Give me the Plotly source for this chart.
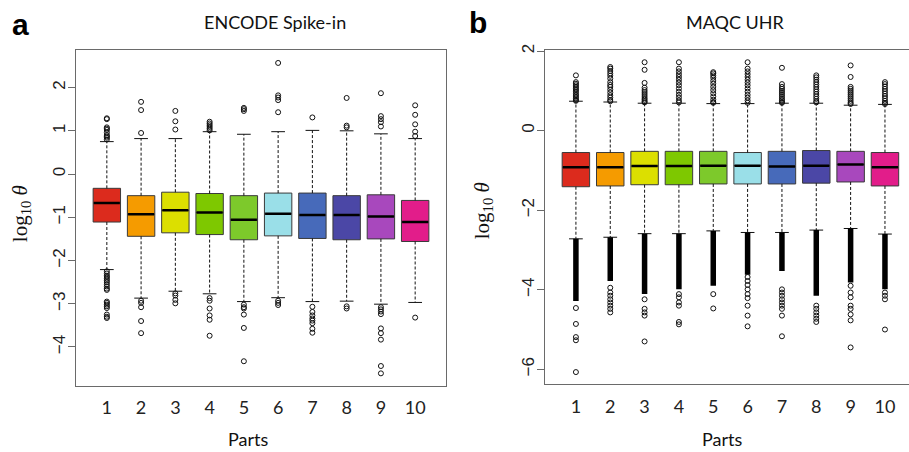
import plotly.graph_objects as go

W, H = 909, 452

parts = [1, 2, 3, 4, 5, 6, 7, 8, 9, 10]
part_labels = ["1", "2", "3", "4", "5", "6", "7", "8", "9", "10"]
colors = ["#DC2B1D", "#F59B00", "#DCDF00", "#7EC800", "#7DC92B",
          "#9ADFE8", "#476ABA", "#4B47A6", "#A848BD", "#E21D8A"]

# ---------------- Panel a: ENCODE Spike-in ----------------
a_q1 = [-1.11, -1.44, -1.36, -1.40, -1.52, -1.43, -1.49, -1.52, -1.50, -1.56]
a_median = [-0.67, -0.93, -0.84, -0.89, -1.06, -0.92, -0.95, -0.95, -0.98, -1.11]
a_q3 = [-0.33, -0.50, -0.42, -0.45, -0.50, -0.44, -0.44, -0.50, -0.48, -0.61]
a_lower = [-2.21, -2.87, -2.71, -2.77, -2.95, -2.86, -2.95, -2.94, -3.01, -2.97]
a_upper = [0.75, 0.82, 0.82, 0.98, 0.92, 0.98, 1.01, 1.00, 0.93, 0.82]
a_out_hi = [
    [1.29, 1.27, 1.08, 1.05, 1.02, 0.96, 0.90, 0.87, 0.84, 0.80],
    [1.67, 1.48, 0.95],
    [1.46, 1.22, 1.03],
    [1.21, 1.17, 1.13, 1.09, 1.05, 1.01],
    [1.53, 1.50, 1.46],
    [2.57, 1.82, 1.77, 1.71, 1.43],
    [1.31],
    [1.76, 1.12, 1.08],
    [1.87, 1.34, 1.27, 1.20, 1.10],
    [1.59, 1.37, 1.15, 0.98, 0.88],
]
a_out_lo = [
    [-2.25, -2.30, -2.35, -2.38, -2.42, -2.46, -2.50, -2.55, -2.60, -2.65, -2.68,
     -2.95, -2.98, -3.02, -3.06, -3.10, -3.25, -3.30, -3.33],
    [-2.93, -2.98, -3.08, -3.40, -3.68],
    [-2.76, -2.81, -2.91, -2.99],
    [-2.87, -2.93, -3.11, -3.27, -3.37, -3.74],
    [-3.02, -3.08, -3.11, -3.25, -3.56, -4.33],
    [-2.93, -2.98, -3.03],
    [-3.07, -3.19, -3.27, -3.34, -3.39, -3.45, -3.58, -3.67],
    [-3.06, -3.11],
    [-3.08, -3.13, -3.18, -3.24, -3.57, -3.68, -3.83, -4.44, -4.61],
    [-3.32],
]

# ---------------- Panel b: MAQC UHR ----------------
b_q1 = [-1.41, -1.39, -1.36, -1.36, -1.34, -1.34, -1.34, -1.32, -1.29, -1.39]
b_median = [-0.92, -0.92, -0.89, -0.89, -0.88, -0.88, -0.90, -0.88, -0.85, -0.92]
b_q3 = [-0.55, -0.55, -0.52, -0.52, -0.52, -0.55, -0.52, -0.50, -0.52, -0.55]
b_lower = [-2.72, -2.68, -2.59, -2.59, -2.52, -2.56, -2.56, -2.50, -2.46, -2.60]
b_upper = [0.74, 0.72, 0.69, 0.69, 0.68, 0.68, 0.69, 0.69, 0.64, 0.66]
# lower end of the solid run of overlapping outliers below each lower whisker
b_dense_lo_end = [-4.28, -3.78, -4.11, -3.99, -3.90, -3.62, -3.53, -4.15, -3.82, -3.99]
b_out_hi = [
    [1.39, 1.22, 1.18, 1.14, 1.10, 1.06, 1.02, 0.98, 0.93, 0.89, 0.85, 0.81, 0.77, 0.75],
    [1.60, 1.56, 1.50, 1.44, 1.38, 1.31, 1.22, 1.15, 1.10, 1.03, 0.96, 0.89, 0.83, 0.77, 0.74],
    [1.72, 1.53, 1.20, 1.08, 1.02, 0.97, 0.92, 0.87, 0.82, 0.78, 0.74, 0.71],
    [1.72, 1.56, 1.49, 1.42, 1.35, 1.28, 1.21, 1.14, 1.06, 0.98, 0.90, 0.83, 0.76, 0.71],
    [1.47, 1.44, 1.39, 1.33, 1.25, 1.18, 1.10, 1.02, 0.94, 0.86, 0.78, 0.72, 0.70],
    [1.72, 1.56, 1.49, 1.42, 1.35, 1.28, 1.21, 1.14, 1.06, 0.98, 0.90, 0.83, 0.76, 0.70],
    [1.58, 1.17, 1.10, 1.05, 1.00, 0.95, 0.90, 0.85, 0.80, 0.76, 0.72, 0.70],
    [1.39, 1.34, 1.28, 1.22, 1.16, 1.10, 1.04, 0.98, 0.92, 0.86, 0.80, 0.74, 0.71],
    [1.64, 1.35, 1.10, 1.05, 1.00, 0.95, 0.90, 0.85, 0.80, 0.75, 0.70, 0.67],
    [1.22, 1.17, 1.11, 1.05, 0.99, 0.93, 0.87, 0.81, 0.75, 0.70, 0.67],
]
b_out_lo = [
    [-4.46, -4.86, -5.19, -5.27, -6.07],
    [-3.95, -4.07, -4.15, -4.24, -4.32, -4.40, -4.48, -4.57],
    [-4.24, -4.48, -4.57, -4.65, -5.30],
    [-4.11, -4.19, -4.32, -4.40, -4.81, -4.87],
    [-4.11, -4.47],
    [-3.68, -3.78, -3.88, -3.99, -4.11, -4.21, -4.40, -4.65, -4.92],
    [-3.99, -4.07, -4.15, -4.24, -4.32, -4.40, -4.48, -4.65, -5.17],
    [-4.40, -4.48, -4.57, -4.65, -4.73, -4.81],
    [-3.90, -4.07, -4.19, -4.40, -4.48, -4.62, -4.77, -5.45],
    [-4.07, -4.15, -4.24, -5.00],
]

titles = ["ENCODE Spike-in", "MAQC UHR"]
panel_letters = ["a", "b"]
x_title = "Parts"
y_title = "log<sub>10</sub> <i>θ</i>"

BOX_W = 0.8
CAP_HALF = 0.2
EDGE = "#3a3a3a"
AXIS = "#6a6a6a"

fig = go.Figure()


def add_panel(xa, ya, q1, med, q3, lo, hi, out_hi, out_lo, dense_end=None):
    for i, p in enumerate(parts):
        fig.add_trace(go.Box(
            x=[p], q1=[q1[i]], median=[med[i]], q3=[q3[i]],
            lowerfence=[q1[i]], upperfence=[q3[i]],
            width=BOX_W, whiskerwidth=0, fillcolor=colors[i],
            line=dict(color=EDGE, width=1), boxpoints=False,
            xaxis=xa, yaxis=ya, showlegend=False, hoverinfo="skip"))
    # dashed whiskers
    wx, wy = [], []
    for i, p in enumerate(parts):
        wx += [p, p, None, p, p, None]
        wy += [q3[i], hi[i], None, q1[i], lo[i], None]
    fig.add_trace(go.Scatter(x=wx, y=wy, mode="lines", xaxis=xa, yaxis=ya,
                             line=dict(color="#111", width=1, dash="3px,2px"),
                             showlegend=False, hoverinfo="skip"))
    # staples
    cx, cy = [], []
    for i, p in enumerate(parts):
        cx += [p - CAP_HALF, p + CAP_HALF, None, p - CAP_HALF, p + CAP_HALF, None]
        cy += [hi[i], hi[i], None, lo[i], lo[i], None]
    fig.add_trace(go.Scatter(x=cx, y=cy, mode="lines", xaxis=xa, yaxis=ya,
                             line=dict(color="#111", width=1),
                             showlegend=False, hoverinfo="skip"))
    # dense outlier runs
    if dense_end is not None:
        dx, dy = [], []
        for i, p in enumerate(parts):
            dx += [p, p, None]
            dy += [lo[i], dense_end[i], None]
        fig.add_trace(go.Scatter(x=dx, y=dy, mode="lines", xaxis=xa, yaxis=ya,
                                 line=dict(color="#000", width=5.5),
                                 showlegend=False, hoverinfo="skip"))
    # outliers
    ox, oy = [], []
    for i, p in enumerate(parts):
        for v in out_hi[i] + out_lo[i]:
            ox.append(p)
            oy.append(v)
    fig.add_trace(go.Scatter(x=ox, y=oy, mode="markers", xaxis=xa, yaxis=ya,
                             marker=dict(symbol="circle-open", size=5,
                                         color="#111", line=dict(width=1)),
                             showlegend=False, hoverinfo="skip"))
    # medians
    mx, my = [], []
    for i, p in enumerate(parts):
        mx += [p - BOX_W / 2 + 0.02, p + BOX_W / 2 - 0.02, None]
        my += [med[i], med[i], None]
    fig.add_trace(go.Scatter(x=mx, y=my, mode="lines", xaxis=xa, yaxis=ya,
                             line=dict(color="#000", width=2.5),
                             showlegend=False, hoverinfo="skip"))


add_panel("x", "y", a_q1, a_median, a_q3, a_lower, a_upper, a_out_hi, a_out_lo)
add_panel("x2", "y2", b_q1, b_median, b_q3, b_lower, b_upper, b_out_hi, b_out_lo,
          b_dense_lo_end)


def px_x(v):
    return v / W


def px_y(v):
    return 1 - v / H


xtick_font = dict(family="Lato, Open Sans, sans-serif", size=18, color="#222")
ytick_font = dict(family="Liberation Sans, Arial, sans-serif", size=17, color="#222")

common_x = dict(tickmode="array", tickvals=parts, ticktext=part_labels,
                ticks="", showgrid=False, zeroline=False, showline=True,
                linecolor=AXIS, linewidth=1, tickfont=xtick_font,
                ticklabelstandoff=6)
common_y = dict(ticks="outside", ticklen=7, tickcolor=AXIS, tickwidth=1,
                showgrid=False, zeroline=False, showline=True, linecolor=AXIS,
                linewidth=1, tickfont=ytick_font, tickangle=-90,
                ticklabelstandoff=-4)

fig.update_layout(
    width=W, height=H,
    margin=dict(l=0, r=0, t=0, b=0),
    paper_bgcolor="white", plot_bgcolor="white",
    boxmode="overlay",
    xaxis=dict(domain=[px_x(76), px_x(446)], range=[0.1, 10.9], mirror=True,
               anchor="y", **common_x),
    yaxis=dict(domain=[px_y(385), px_y(45)], range=[-4.90, 2.86], mirror=True,
               anchor="x", tickvals=[-4, -3, -2, -1, 0, 1, 2], **common_y),
    xaxis2=dict(domain=[px_x(545), 1.0], range=[0.1, 10.7], mirror=True,
                anchor="y2", **common_x),
    yaxis2=dict(domain=[px_y(383.5), px_y(44.5)], range=[-6.38, 2.03], mirror=False,
                anchor="x2", tickvals=[-6, -4, -2, 0, 2], **common_y),
)

ann = []
title_font = dict(family="Lato, Open Sans, sans-serif", size=18, color="#111")
for t, cx in zip(titles, [275, 735]):
    ann.append(dict(text=t, x=px_x(cx), y=px_y(16), xref="paper", yref="paper",
                    showarrow=False, font=title_font, xanchor="center", yanchor="middle"))
for t, cx, cy in zip(panel_letters, [20, 478], [19, 17]):
    ann.append(dict(text="<b>" + t + "</b>", x=px_x(cx), y=px_y(cy), xref="paper",
                    yref="paper", showarrow=False,
                    font=dict(family="Liberation Sans, Arial, sans-serif", size=30,
                              color="#000"),
                    xanchor="center", yanchor="middle"))
for cx in [248, 722]:
    ann.append(dict(text=x_title, x=px_x(cx), y=px_y(439), xref="paper", yref="paper",
                    showarrow=False, font=title_font, xanchor="center", yanchor="middle"))
for cx, cy in [(21, 211), (483, 208)]:
    ann.append(dict(text=y_title, x=px_x(cx), y=px_y(cy), xref="paper", yref="paper",
                    showarrow=False, textangle=-90,
                    font=dict(family="Liberation Serif, serif", size=21, color="#111"),
                    xanchor="center", yanchor="middle"))
fig.update_layout(annotations=ann)

fig.write_html("out.html",
               config={"displayModeBar": False},
               post_script="document.body.style.margin='0';"
                           "document.body.style.overflow='hidden';")
